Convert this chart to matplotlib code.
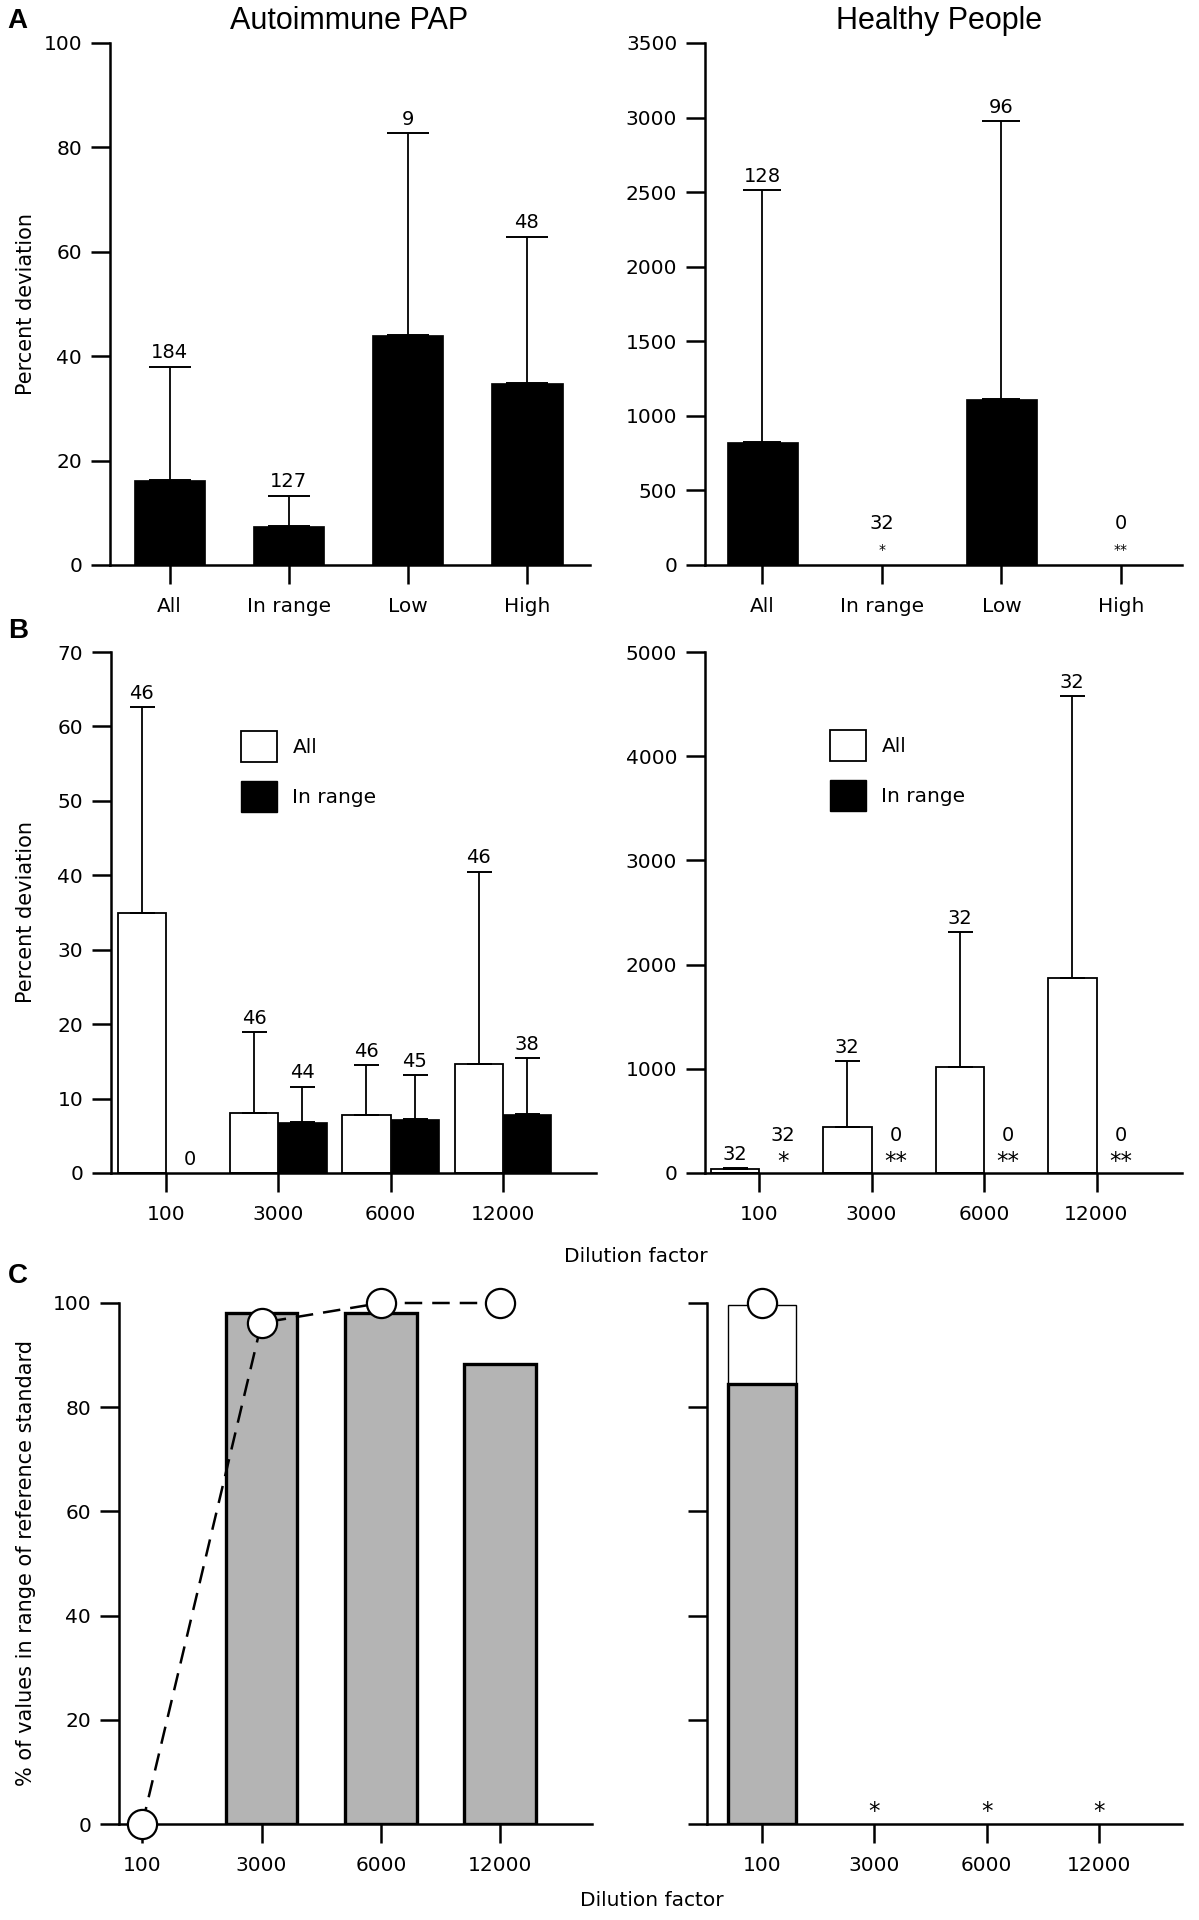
import numpy as np
import matplotlib.pyplot as plt
from matplotlib.patches import Patch

W, H = 1199, 1920
plt.rcParams['font.family'] = ['DejaVu Sans']

# ---- data ----
a_cats = ['All', 'In range', 'Low', 'High']
a_pap_mean = [16.3, 7.4, 44.0, 34.9]
a_pap_upper = [38.0, 13.3, 82.8, 62.9]
a_pap_n = ['184', '127', '9', '48']
a_hp_mean = [825, 0, 1110, 0]
a_hp_upper = [2515, 0, 2975, 0]
a_hp_n = ['128', '32', '96', '0']
a_hp_star = ['', '*', '', '**']

dil = ['100', '3000', '6000', '12000']
b_pap_all = [35.0, 8.1, 7.8, 14.6]
b_pap_all_up = [62.6, 18.9, 14.5, 40.5]
b_pap_in = [0, 6.8, 7.3, 7.9]
b_pap_in_up = [0, 11.6, 13.2, 15.4]
b_pap_all_n = ['46', '46', '46', '46']
b_pap_in_n = ['0', '44', '45', '38']

b_hp_all = [35, 440, 1020, 1870]
b_hp_all_up = [50, 1075, 2310, 4580]
b_hp_in = [0, 0, 0, 0]
b_hp_all_n = ['32', '32', '32', '32']
b_hp_in_n = ['32', '0', '0', '0']
b_hp_in_star = ['*', '**', '**', '**']

c_pap_bar = [0, 98.0, 98.0, 88.3]
c_pap_pts = [0, 96.2, 100, 100]
c_hp_all = [99.6, 0, 0, 0]
c_hp_bar = [84.5, 0, 0, 0]
c_hp_pts = [100, None, None, None]
c_hp_star = ['', '*', '*', '*']

GRAY = '#b4b4b4'
FS = 14.5

fig = plt.figure(figsize=(W / 100, H / 100), dpi=100)


def make_ax(x0, x1, ytop, ybot):
    return fig.add_axes([x0 / W, 1 - ybot / H, (x1 - x0) / W, (ybot - ytop) / H])


def style(ax, yticks, xlim, xlabels, ylabels=True):
    for s in ['top', 'right']:
        ax.spines[s].set_visible(False)
    for s in ['left', 'bottom']:
        ax.spines[s].set_linewidth(1.8)
    ax.set_ylim(yticks[0], yticks[-1])
    ax.set_yticks(yticks)
    ax.set_xlim(*xlim)
    ax.set_xticks(range(len(xlabels)))
    ax.set_xticklabels(xlabels)
    ax.tick_params(axis='both', direction='out', length=14, width=1.8, labelsize=FS)
    ax.tick_params(axis='x', pad=9)
    ax.tick_params(axis='y', pad=6)
    if not ylabels:
        ax.set_yticklabels([])


def upper_err(ax, x, mean, upper, cap):
    x = np.asarray(x, float)
    m = np.asarray(mean, float)
    u = np.asarray(upper, float)
    keep = u > m
    ax.errorbar(x[keep], m[keep], yerr=[np.zeros(keep.sum()), (u - m)[keep]],
                fmt='none', ecolor='black', elinewidth=1.3, capsize=cap, capthick=1.4)


def top_labels(ax, x, upper, labels):
    for xi, u, t in zip(x, upper, labels):
        ax.annotate(t, (xi, u), xytext=(0, 3), textcoords='offset points',
                    ha='center', va='bottom', fontsize=FS - 0.5)


def zero_labels(ax, x, labels, dy, fs):
    for xi, t in zip(x, labels):
        if t:
            ax.annotate(t, (xi, 0), xytext=(0, dy), textcoords='offset points',
                        ha='center', va='center', fontsize=fs)


def set_ylab(ax, text, ycenter):
    ax.set_ylabel(text, fontsize=15)
    ax.yaxis.set_label_coords(36 / W, 1 - ycenter / H, transform=fig.transFigure)


xa = np.arange(4)

# ---- Panel A ----
ax = make_ax(110, 590, 43, 565)
ax.bar(xa, a_pap_mean, width=0.6, color='black', edgecolor='black', lw=0.5)
upper_err(ax, xa, a_pap_mean, a_pap_upper, 15)
top_labels(ax, xa, a_pap_upper, a_pap_n)
style(ax, np.arange(0, 101, 20), (-0.5, 3.53), a_cats)
set_ylab(ax, 'Percent deviation', 304)

ax = make_ax(705, 1182, 43, 565)
m = np.array(a_hp_mean)
ax.bar(xa[m > 0], m[m > 0], width=0.6, color='black', edgecolor='black', lw=0.5)
upper_err(ax, xa, a_hp_mean, a_hp_upper, 14)
top_labels(ax, xa[m > 0], np.array(a_hp_upper)[m > 0], np.array(a_hp_n)[m > 0])
zero_labels(ax, xa[m == 0], np.array(a_hp_n)[m == 0], 30, FS - 0.5)
zero_labels(ax, xa, a_hp_star, 11, 10)
style(ax, np.arange(0, 3501, 500), (-0.48, 3.51), a_cats)

# ---- Panel B ----
bw = 0.43
leg_handles = [Patch(facecolor='white', edgecolor='black', lw=1.3),
               Patch(facecolor='black', edgecolor='black')]
leg_kw = dict(loc='upper left', bbox_transform=fig.transFigure, frameon=False,
              borderpad=0, borderaxespad=0, handlelength=1.8, handleheight=2.0,
              handletextpad=0.75, labelspacing=0.95, fontsize=FS)

ax = make_ax(111, 596, 652, 1173)
ax.bar(xa - bw / 2, b_pap_all, width=bw, color='white', edgecolor='black', lw=1.3)
mi = np.array(b_pap_in)
ax.bar((xa + bw / 2)[mi > 0], mi[mi > 0], width=bw, color='black', edgecolor='black', lw=0.5)
upper_err(ax, xa - bw / 2, b_pap_all, b_pap_all_up, 9)
upper_err(ax, xa + bw / 2, b_pap_in, b_pap_in_up, 9)
top_labels(ax, xa - bw / 2, b_pap_all_up, b_pap_all_n)
top_labels(ax, (xa + bw / 2)[mi > 0], np.array(b_pap_in_up)[mi > 0], np.array(b_pap_in_n)[mi > 0])
zero_labels(ax, (xa + bw / 2)[mi == 0], np.array(b_pap_in_n)[mi == 0], 10, FS - 0.5)
style(ax, np.arange(0, 71, 10), (-0.49, 3.83), dil)
set_ylab(ax, 'Percent deviation', 912)
ax.legend(leg_handles, ['All', 'In range'], bbox_to_anchor=(241 / W, 1 - 731 / H), **leg_kw)

ax = make_ax(705, 1182, 652, 1173)
ax.bar(xa - bw / 2, b_hp_all, width=bw, color='white', edgecolor='black', lw=1.3)
upper_err(ax, xa - bw / 2, b_hp_all, b_hp_all_up, 9)
top_labels(ax, xa - bw / 2, b_hp_all_up, b_hp_all_n)
zero_labels(ax, xa + bw / 2, b_hp_in_n, 27, FS - 0.5)
zero_labels(ax, xa + bw / 2, b_hp_in_star, 8, FS + 2)
style(ax, np.arange(0, 5001, 1000), (-0.48, 3.76), dil)
ax.legend(leg_handles, ['All', 'In range'], bbox_to_anchor=(830 / W, 1 - 730 / H), **leg_kw)

fig.text(636 / W, 1 - 1257 / H, 'Dilution factor', ha='center', va='center', fontsize=FS)

# ---- Panel C ----
ax = make_ax(119, 592, 1303, 1824)
cb = np.array(c_pap_bar)
ax.bar(xa[cb > 0], cb[cb > 0], width=0.6, color=GRAY, edgecolor='black', lw=2.4, zorder=2)
ax.plot(xa, c_pap_pts, color='black', lw=1.8, dashes=(7, 4), marker='o', ms=21,
        mfc='white', mec='black', mew=1.6, clip_on=False, zorder=4)
style(ax, np.arange(0, 101, 20), (-0.195, 3.77), dil)
set_ylab(ax, '% of values in range of reference standard', 1563)

ax = make_ax(707, 1182, 1303, 1824)
ca = np.array(c_hp_all)
ch = np.array(c_hp_bar)
ax.bar(xa[ca > 0], ca[ca > 0], width=0.6, color='white', edgecolor='black', lw=1.0, zorder=1)
ax.bar(xa[ch > 0], ch[ch > 0], width=0.6, color=GRAY, edgecolor='black', lw=2.4, zorder=2)
pts = [(x, v) for x, v in zip(xa, c_hp_pts) if v is not None]
ax.plot([p[0] for p in pts], [p[1] for p in pts], 'o', ms=21, mfc='white', mec='black',
        mew=1.6, clip_on=False, zorder=4)
zero_labels(ax, xa, c_hp_star, 9, FS + 2)
style(ax, np.arange(0, 101, 20), (-0.49, 3.74), dil, ylabels=False)

fig.text(652 / W, 1 - 1900 / H, 'Dilution factor', ha='center', va='center', fontsize=FS)

# ---- titles and panel letters ----
fig.text(349 / W, 1 - 21 / H, 'Autoimmune PAP', ha='center', va='center',
         fontsize=22, family='Liberation Sans')
fig.text(939 / W, 1 - 21 / H, 'Healthy People', ha='center', va='center',
         fontsize=22, family='Liberation Sans')
for letter, (lx, ly) in zip('ABC', [(17, 21), (18, 631), (18, 1276)]):
    fig.text(lx / W, 1 - ly / H, letter, ha='center', va='center', fontsize=20,
             fontweight='bold', family='Liberation Sans')

fig.savefig('out.png', dpi=100, facecolor='white')
